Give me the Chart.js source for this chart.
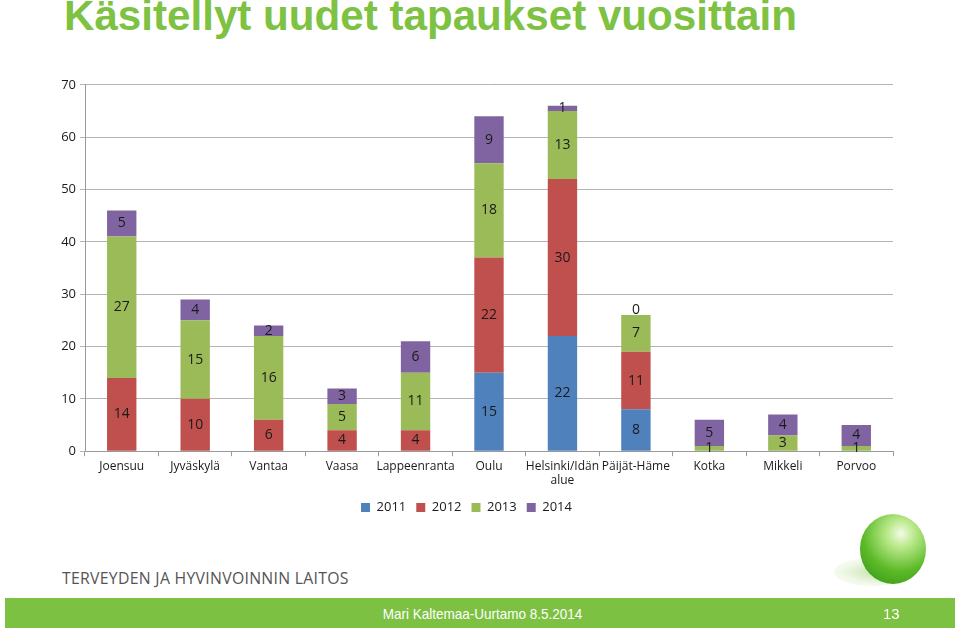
<!DOCTYPE html>
<html>
<head>
<meta charset="utf-8">
<script src="https://cdn.jsdelivr.net/npm/chart.js@4/dist/chart.umd.min.js"></script>
<style>
  body { margin: 0; width: 960px; height: 630px; background: #fff; position: relative; overflow: hidden; font-family: "Liberation Sans", Arial, sans-serif; }
  #title { position: absolute; left: 64px; top: -9px; font-size: 43px; font-weight: bold; color: #7dc242; white-space: nowrap; transform-origin: left top; transform: scaleX(0.98); }
  #chart-box { position: absolute; left: 40px; top: 73px; width: 860px; height: 451px; }
  #org { position: absolute; left: 62px; top: 566px; font-family: "Open Sans", sans-serif; font-size: 17px; color: #555; letter-spacing: 0.3px; transform-origin: left top; transform: scaleX(0.93); }
  #footer { position: absolute; left: 5px; top: 598px; width: 950px; height: 30px; background: #7dc142; color: #fff; }
  #footer .who { position: absolute; left: 0; width: 955px; text-align: center; top: 7px; font-size: 15px; transform: scaleX(0.9); }
  #footer .page { position: absolute; left: 878px; top: 7px; font-size: 15px; }
  #ball { position: absolute; left: 860px; top: 514px; width: 66px; height: 70px; border-radius: 50%;
    background: radial-gradient(circle at 62% 28%, #f2fbe6 0%, #b8e888 22%, #5cba28 58%, #2e8e12 100%); }
  #shadow { position: absolute; left: 834px; top: 558px; width: 74px; height: 28px; border-radius: 50%;
    background: radial-gradient(ellipse at 70% 50%, rgba(120,190,60,0.5) 0%, rgba(180,220,140,0.2) 60%, rgba(255,255,255,0) 100%); }
</style>
</head>
<body>
<div id="title">Käsitellyt uudet tapaukset vuosittain</div>
<div id="chart-box"><canvas id="chart"></canvas></div>
<div id="org">TERVEYDEN JA HYVINVOINNIN LAITOS</div>
<div id="shadow"></div>
<div id="ball"></div>
<div id="footer"><div class="who">Mari Kaltemaa-Uurtamo 8.5.2014</div><div class="page">13</div></div>
<script>
const categories = ["Joensuu", "Jyväskylä", "Vantaa", "Vaasa", "Lappeenranta", "Oulu", ["Helsinki/Idän", "alue"], "Päijät-Häme", "Kotka", "Mikkeli", "Porvoo"];
const years = ["2011", "2012", "2013", "2014"];
const v2011 = [null, null, null, null, null, 15, 22, 8, null, null, null];
const v2012 = [14, 10, 6, 4, 4, 22, 30, 11, null, null, null];
const v2013 = [27, 15, 16, 5, 11, 18, 13, 7, 1, 3, 1];
const v2014 = [5, 4, 2, 3, 6, 9, 1, 0, 5, 4, 4];
const yTicks = [0, 10, 20, 30, 40, 50, 60, 70];
const colors = ["#4f81bd", "#c0504d", "#9bbb59", "#8064a2"];

// value labels centred in each segment, like Excel's data labels
const segmentLabels = {
  id: "segmentLabels",
  afterDatasetsDraw(chart) {
    const ctx = chart.ctx;
    ctx.save();
    ctx.font = "14px 'Open Sans', sans-serif";
    ctx.fillStyle = "#1a1a1a";
    ctx.textAlign = "center";
    ctx.textBaseline = "middle";
    chart.data.datasets.forEach((ds, i) => {
      chart.getDatasetMeta(i).data.forEach((bar, j) => {
        const v = ds.data[j];
        if (v === null) return;
        const y = v === 0 ? bar.y - 5 : (bar.y + bar.base) / 2;
        ctx.fillText(String(v), bar.x, y);
      });
    });
    ctx.restore();
  }
};

new Chart(document.getElementById("chart"), {
  type: "bar",
  data: {
    labels: categories,
    datasets: [v2011, v2012, v2013, v2014].map((d, i) => ({
      label: years[i],
      data: d,
      backgroundColor: colors[i],
      borderWidth: 0,
      categoryPercentage: 1,
      barPercentage: 0.4
    }))
  },
  options: {
    responsive: true,
    maintainAspectRatio: false,
    animation: false,
    layout: { padding: { top: 11, right: 7, left: 0, bottom: 0 } },
    scales: {
      x: {
        stacked: true,
        grid: { drawOnChartArea: false, color: "#9a9a9a", tickLength: 5 },
        border: { color: "#9a9a9a" },
        ticks: { color: "#1a1a1a", font: { family: "'Open Sans', sans-serif", size: 12 }, maxRotation: 0, autoSkip: false, padding: 3 }
      },
      y: {
        stacked: true,
        min: 0,
        max: 70,
        afterFit: (s) => { s.width = 45; },
        afterBuildTicks: (s) => { s.ticks = yTicks.map(v => ({ value: v })); },
        grid: { color: "#b4b4b4", tickLength: 5 },
        border: { color: "#9a9a9a" },
        ticks: { color: "#1a1a1a", font: { family: "'Open Sans', sans-serif", size: 13 }, padding: 4 }
      }
    },
    plugins: {
      legend: {
        position: "bottom",
        labels: { boxWidth: 9, boxHeight: 9, padding: 10, color: "#1a1a1a", font: { family: "'Open Sans', sans-serif", size: 13 } }
      },
      tooltip: { enabled: false }
    }
  },
  plugins: [segmentLabels]
});
</script>
</body>
</html>
